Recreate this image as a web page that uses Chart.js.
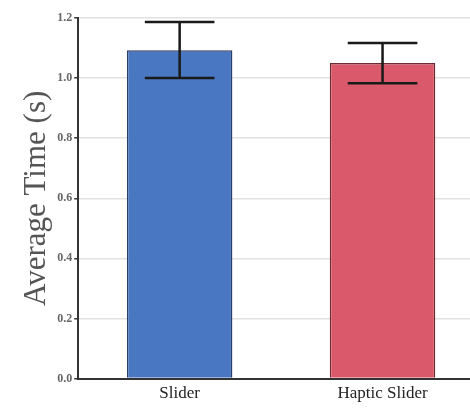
<!DOCTYPE html>
<html>
<head>
<meta charset="utf-8">
<script src="https://cdn.jsdelivr.net/npm/chart.js@4"></script>
<style>
  html, body { margin: 0; padding: 0; background: #fff; overflow: hidden; }
  #wrap { position: relative; width: 484px; height: 409px; }
</style>
</head>
<body>
<div id="wrap"><canvas id="chart"></canvas></div>
<script>
const categories = ['Slider', 'Haptic Slider'];
const meanTimes = [1.093, 1.05];
const errLow = [1.0, 0.983];
const errHigh = [1.187, 1.117];
const barColors = ['#4a77c2', '#da5a6b'];

// draws the error bars from the scales
const errorBars = {
    id: 'errorBars',
    afterDatasetsDraw(chart) {
        const ctx = chart.ctx;
        const meta = chart.getDatasetMeta(0);
        const y = chart.scales.y;
        ctx.save();
        ctx.strokeStyle = '#1a1a1a';
        ctx.lineWidth = 2.5;
        meta.data.forEach((bar, i) => {
            const x = bar.x;
            const yTop = y.getPixelForValue(errHigh[i]);
            const yBot = y.getPixelForValue(errLow[i]);
            const half = bar.width * 0.33;
            ctx.beginPath();
            ctx.moveTo(x, yTop); ctx.lineTo(x, yBot);
            ctx.moveTo(x - half, yTop); ctx.lineTo(x + half, yTop);
            ctx.moveTo(x - half, yBot); ctx.lineTo(x + half, yBot);
            ctx.stroke();
        });
        ctx.restore();
    }
};

new Chart(document.getElementById('chart'), {
    type: 'bar',
    data: {
        labels: categories,
        datasets: [{
            data: meanTimes,
            backgroundColor: barColors,
            borderColor: ['#2b3f66', '#6e2a33'],
            borderWidth: 1.5,
            barPercentage: 0.52,
            categoryPercentage: 1
        }]
    },
    options: {
        responsive: true,
        maintainAspectRatio: false,
        animation: false,
        layout: { padding: { top: 18, left: 18, right: 0, bottom: 0 } },
        plugins: {
            legend: { display: false },
            tooltip: { enabled: false }
        },
        scales: {
            x: {
                grid: { display: false, drawTicks: false },
                border: { color: '#333', width: 2 },
                ticks: {
                    color: '#222',
                    padding: 5,
                    font: { family: 'Liberation Serif', size: 17 }
                }
            },
            y: {
                min: 0,
                max: 1.2,
                ticks: {
                    stepSize: 0.2,
                    color: '#666',
                    padding: 2,
                    font: { family: 'Liberation Serif', size: 12, weight: 'bold' },
                    callback: v => v.toFixed(1)
                },
                grid: { color: '#e2e2e2', lineWidth: 1.5, tickLength: 4, tickColor: '#333' },
                border: { color: '#333', width: 2 },
                title: {
                    display: true,
                    text: 'Average Time (s)',
                    color: '#555',
                    padding: { top: 0, bottom: 0 },
                    font: { family: 'Liberation Serif', size: 31 }
                }
            }
        }
    },
    plugins: [errorBars]
});
</script>
</body>
</html>
